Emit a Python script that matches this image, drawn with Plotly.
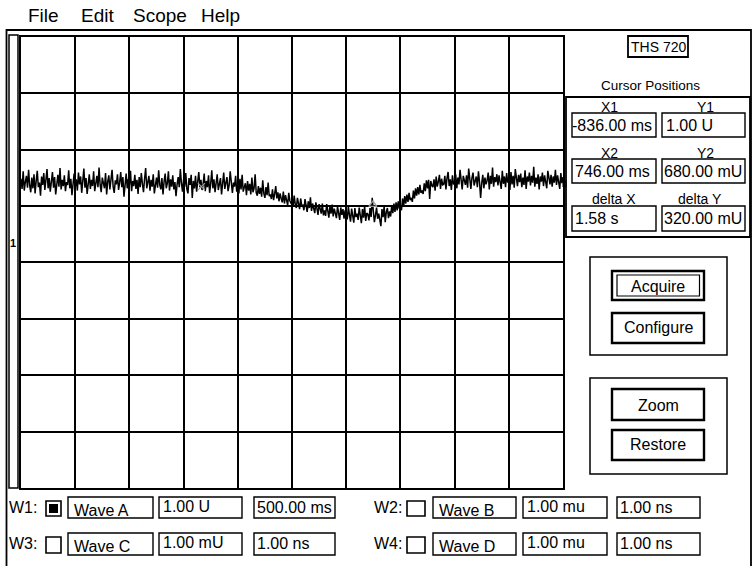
import plotly.graph_objects as go

W, H = 753, 566
FONT = "Liberation Sans, Arial, Helvetica, sans-serif"

# ---------------- data ----------------
time_ms = list(range(-2500, 2501, 10))
wave_a = [
    1.14, 0.96, 1.27, 0.93, 1.08, 1.19, 0.98, 1.30, 1.02, 0.90,
    1.16, 0.97, 1.22, 0.88, 1.10, 1.28, 0.99, 1.07, 0.84, 1.18,
    1.03, 1.24, 0.94, 1.12, 1.31, 0.97, 1.15, 0.91, 1.09, 1.26,
    0.98, 1.17, 0.86, 1.06, 1.21, 1.00, 1.33, 0.95, 1.12, 1.01,
    1.20, 0.92, 1.08, 1.03, 1.29, 0.97, 1.14, 0.85, 1.06, 1.23,
    1.00, 1.13, 0.93, 1.25, 1.04, 1.18, 0.89, 1.09, 1.32, 0.98,
    1.15, 0.87, 1.07, 1.22, 0.96, 1.12, 1.01, 1.27, 0.92, 1.08,
    1.19, 0.99, 1.34, 1.03, 0.90, 1.16, 1.06, 0.97, 1.24, 0.86,
    1.09, 1.20, 0.95, 1.13, 1.30, 1.00, 0.89, 1.11, 1.04, 1.22,
    0.94, 1.07, 1.26, 0.99, 1.17, 0.82, 1.08, 1.23, 0.97, 1.14,
    1.03, 1.28, 0.92, 1.10, 1.01, 1.21, 0.96, 1.12, 0.87, 1.17,
    0.99, 1.24, 1.05, 0.90, 1.14, 1.33, 0.97, 1.09, 1.19, 0.93,
    1.12, 1.00, 1.22, 0.88, 1.06, 1.16, 0.98, 1.29, 1.03, 0.95,
    1.15, 0.86, 1.09, 1.23, 0.97, 1.06, 1.27, 0.93, 1.13, 1.00,
    1.20, 0.95, 1.08, 0.83, 1.04, 1.17, 0.99, 1.31, 1.06, 0.91,
    1.13, 1.00, 1.24, 0.96, 0.88, 1.15, 1.03, 1.21, 0.80, 1.10,
    0.97, 1.19, 0.91, 1.07, 1.26, 0.99, 1.12, 0.94, 1.04, 1.23,
    0.92, 1.10, 0.99, 1.20, 0.89, 1.05, 1.29, 0.97, 1.13, 0.90,
    1.06, 1.22, 0.94, 1.02, 1.15, 0.86, 1.09, 1.25, 0.96, 1.04,
    1.17, 0.92, 1.02, 1.27, 0.98, 0.89, 1.07, 1.00, 1.19, 0.91,
    1.01, 0.88, 1.14, 0.95, 1.21, 0.91, 0.99, 1.06, 0.85, 1.10,
    0.93, 1.05, 0.86, 1.16, 0.90, 0.97, 1.22, 0.89, 0.84, 1.01,
    0.87, 0.98, 0.82, 1.11, 0.88, 0.80, 0.99, 0.85, 1.07, 0.83,
    0.86, 0.78, 0.95, 0.76, 0.87, 1.01, 0.79, 0.90, 0.74, 0.88,
    0.79, 0.72, 0.91, 0.70, 0.85, 0.78, 0.67, 0.89, 0.75, 0.71,
    0.73, 0.64, 0.84, 0.69, 0.62, 0.80, 0.68, 0.60, 0.79, 0.66,
    0.67, 0.58, 0.78, 0.63, 0.55, 0.74, 0.62, 0.81, 0.57, 0.70,
    0.61, 0.53, 0.72, 0.58, 0.50, 0.69, 0.57, 0.52, 0.70, 0.49,
    0.58, 0.48, 0.69, 0.55, 0.45, 0.66, 0.52, 0.68, 0.47, 0.61,
    0.54, 0.44, 0.65, 0.52, 0.41, 0.63, 0.50, 0.60, 0.43, 0.58,
    0.53, 0.42, 0.64, 0.50, 0.38, 0.61, 0.49, 0.36, 0.62, 0.46,
    0.52, 0.41, 0.63, 0.47, 0.35, 0.60, 0.45, 0.65, 0.39, 0.53,
    0.51, 0.40, 0.62, 0.46, 0.80, 0.57, 0.37, 0.49, 0.63, 0.43,
    0.52, 0.41, 0.30, 0.60, 0.46, 0.65, 0.37, 0.55, 0.62, 0.44,
    0.56, 0.47, 0.67, 0.53, 0.70, 0.55, 0.72, 0.58, 0.74, 0.61,
    0.66, 0.58, 0.79, 0.65, 0.83, 0.70, 0.86, 0.73, 0.89, 0.76,
    0.80, 0.73, 0.93, 0.79, 0.97, 0.84, 0.99, 0.86, 1.03, 0.89,
    0.93, 0.87, 1.06, 0.92, 1.11, 0.97, 1.12, 0.78, 1.10, 1.02,
    0.99, 1.13, 0.93, 1.18, 1.00, 1.09, 1.21, 0.96, 1.14, 1.03,
    1.04, 1.19, 0.95, 1.15, 1.26, 1.01, 1.13, 0.94, 1.20, 1.05,
    1.06, 1.22, 0.97, 1.16, 1.04, 1.30, 1.09, 0.95, 1.19, 1.10,
    1.03, 1.20, 0.98, 1.32, 1.11, 0.96, 1.15, 1.25, 1.02, 1.12,
    1.18, 0.99, 1.27, 1.08, 0.80, 1.06, 1.21, 0.97, 1.16, 1.04,
    1.11, 1.25, 0.95, 1.19, 1.05, 1.34, 1.00, 1.17, 1.08, 1.22,
    1.02, 1.20, 1.10, 0.96, 1.28, 1.05, 1.18, 0.99, 1.24, 1.07,
    1.15, 0.94, 1.26, 1.04, 1.19, 0.98, 1.31, 1.09, 1.01, 1.21,
    1.08, 1.23, 0.99, 1.16, 1.03, 1.29, 0.96, 1.18, 1.09, 1.25,
    1.02, 1.19, 1.07, 1.35, 1.00, 1.16, 1.05, 1.22, 0.95, 1.18,
    1.09, 1.25, 1.01, 1.20, 1.08, 0.97, 1.28, 1.13, 1.04, 1.21,
    1.00, 1.18, 1.07, 1.30, 1.03, 1.20, 1.10, 0.96, 1.24, 1.06,
    1.17,
]
cursor_time_ms = [-836, 746]
cursor_level_u = [1.00, 0.68]

menu_items = ["File", "Edit", "Scope", "Help"]
instrument = "THS 720"
cursor_title = "Cursor Positions"
cursor_labels = ["X1", "Y1", "X2", "Y2", "delta X", "delta Y"]
cursor_values = ["-836.00 ms", "1.00 U", "746.00 ms", "680.00 mU", "1.58 s", "320.00 mU"]
buttons = ["Acquire", "Configure", "Zoom", "Restore"]
channel_names = ["W1:", "W2:", "W3:", "W4:"]
channel_waves = ["Wave A", "Wave B", "Wave C", "Wave D"]
channel_volts = ["1.00 U", "1.00 mu", "1.00 mU", "1.00 mu"]
channel_times = ["500.00 ms", "1.00 ns", "1.00 ns", "1.00 ns"]

# ---------------- helpers (pixel -> paper) ----------------
def X(px):
    return px / W

def Y(py):
    return 1 - py / H

shapes = []
annotations = []

def rect(x0, y0, x1, y1, lw=1.4, fill=None, color="black"):
    shapes.append(dict(type="rect", xref="paper", yref="paper",
                       x0=X(x0), x1=X(x1), y0=Y(y1), y1=Y(y0),
                       line=dict(color=color, width=lw),
                       fillcolor=fill if fill else "rgba(0,0,0,0)", layer="above"))

def text(x, y, s, size=16, anchor="left", bold=False):
    annotations.append(dict(xref="paper", yref="paper", x=X(x), y=Y(y),
                            text=("<b>%s</b>" % s) if bold else s,
                            showarrow=False, xanchor=anchor, yanchor="middle",
                            font=dict(family=FONT, size=size, color="black"),
                            borderpad=0))

# ---------------- frame ----------------
rect(6.5, 30, 751, 600, lw=1.8)
rect(9, 35, 18, 488, lw=1.5)
text(13, 243, "1", size=11, anchor="center", bold=True)

# menu
for name, mx in zip(menu_items, [27, 80, 132, 200]):
    text(mx, 16, name, size=19)

# instrument box
rect(628, 36, 688, 57, lw=1.8)
text(658, 46.5, instrument, size=14, anchor="center")

# cursor panel
text(650.5, 86, cursor_title, size=13.5, anchor="center")
rect(566, 97, 750, 237, lw=1.8)
label_pos = [(609, 106.5), (705, 106.5), (609, 153.5), (705, 153.5), (613.5, 199), (700, 199)]
for lab, (lx, ly) in zip(cursor_labels, label_pos):
    text(lx, ly, lab, size=14, anchor="center")
field_rows = [(113, 137, 125), (159, 183, 171.5), (206, 231, 218.5)]
for r, (y0, y1, yc) in enumerate(field_rows):
    rect(572, y0, 656, y1, lw=1.4)
    rect(662, y0, 745, y1, lw=1.4)
    text(571 if r == 0 else 574, yc, cursor_values[2 * r], size=16)
    text(665 if r == 0 else 663, yc, cursor_values[2 * r + 1], size=16)

# button groups
rect(590, 257, 727, 355, lw=1.5)
rect(590, 378, 727, 474, lw=1.5)
btn_rows = [(271, 300, 286), (313, 343, 327.5), (389, 420, 405), (430, 460, 444.5)]
for b, (y0, y1, yc) in zip(buttons, btn_rows):
    rect(612, y0, 704, y1, lw=2.4)
    text(658, yc, b, size=16, anchor="center")
rect(617, 275, 699.5, 296, lw=1.2)

# channel rows
left_x = dict(label=8, box=(46, 61), wave=(68, 153), volt=(159, 242), time=(254, 335))
right_x = dict(label=373, box=(407, 425), wave=(433, 516), volt=(523, 607), time=(617, 700))
rows = [(497, 518, 508), (533, 555, 544)]
for idx in range(4):
    side = left_x if idx in (0, 2) else right_x
    y0, y1, yc = rows[0] if idx in (0, 1) else rows[1]
    text(side["label"], yc - 1, channel_names[idx], size=16)
    cb0, cb1 = side["box"]
    rect(cb0, y0 + 4, cb1, y1 - 2, lw=1.6)
    if idx == 0:
        rect(cb0 + 3, y0 + 7, cb1 - 3, y1 - 5, lw=0, fill="black")
    w0, w1 = side["wave"]
    rect(w0, y0, w1, y1, lw=1.4)
    text(w0 + 5, yc + 2, channel_waves[idx], size=16)
    v0, v1 = side["volt"]
    rect(v0, y0, v1, y1, lw=1.4)
    text(v0 + 3, yc - 2, channel_volts[idx], size=16)
    t0, t1 = side["time"]
    rect(t0, y0, t1, y1, lw=1.4)
    text(t0 + 2, yc - 1, channel_times[idx], size=16)

# trigger tick at right edge of the screen
rect(563, 181, 566, 187, lw=1.0)

# ---------------- figure ----------------
fig = go.Figure()
fig.add_trace(go.Scatter(x=time_ms, y=wave_a, mode="lines",
                         line=dict(color="black", width=1.5), hoverinfo="skip"))
fig.add_trace(go.Scatter(x=cursor_time_ms, y=cursor_level_u, mode="markers",
                         marker=dict(symbol=["x-thin-open", "triangle-up-open"], size=7,
                                     color="#9a9a9a", line=dict(color="#9a9a9a", width=1.3)),
                         hoverinfo="skip"))

fig.update_layout(
    width=W, height=H, margin=dict(l=0, r=0, t=0, b=0),
    paper_bgcolor="white", plot_bgcolor="white", showlegend=False,
    xaxis=dict(domain=[X(21), X(563)], range=[-2500, 2500], dtick=500, tick0=0,
               showgrid=True, gridcolor="black", gridwidth=1.8, zeroline=False,
               showline=True, mirror=True, linecolor="black", linewidth=2,
               showticklabels=False, ticks="", fixedrange=True),
    yaxis=dict(domain=[Y(488), Y(37)], range=[-4.346, 3.654], dtick=1, tick0=0.656,
               showgrid=True, gridcolor="black", gridwidth=1.8, zeroline=False,
               showline=True, mirror=True, linecolor="black", linewidth=2,
               showticklabels=False, ticks="", fixedrange=True),
    shapes=shapes, annotations=annotations,
)

fig.write_html("out.html", config={"displayModeBar": False},
               post_script="document.body.style.margin='0';document.body.style.overflow='hidden';")
